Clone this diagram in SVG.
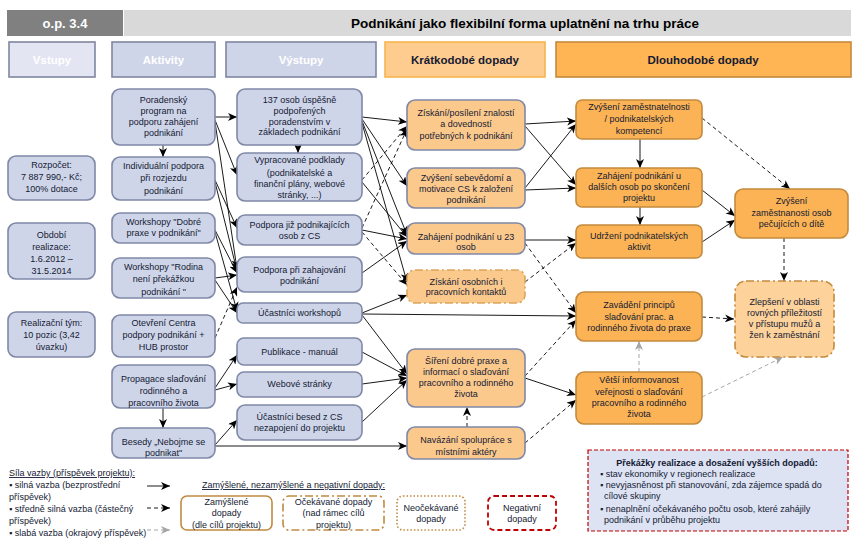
<svg xmlns="http://www.w3.org/2000/svg" width="859" height="540" viewBox="0 0 859 540">
<defs>
<marker id="ah" markerUnits="userSpaceOnUse" markerWidth="10" markerHeight="8" refX="9" refY="4" orient="auto"><path d="M0,0 L9,4 L0,8 L2.5,4 z" fill="#000"/></marker>
<marker id="ahg" markerUnits="userSpaceOnUse" markerWidth="10" markerHeight="8" refX="9" refY="4" orient="auto"><path d="M0,0 L9,4 L0,8 L2.5,4 z" fill="#a6a6a6"/></marker>
<style>
text{font-family:"Liberation Sans",Arial,sans-serif;font-size:9px;fill:#141a33;text-anchor:middle}
.blue{fill:#cfd5e9;stroke:#7f88a6;stroke-width:1.6}
.so{fill:#fcc98d;stroke:#7f88a6;stroke-width:1.6}
.lo{fill:#fbb355;stroke:#c48a3e;stroke-width:1.6}
.c{fill:none;stroke:#000;stroke-width:0.9;marker-end:url(#ah)}
.d{fill:none;stroke:#000;stroke-width:0.9;stroke-dasharray:4 3;marker-end:url(#ah)}
.g{fill:none;stroke:#a6a6a6;stroke-width:1;stroke-dasharray:4 3;marker-end:url(#ahg)}
.hd{font-size:11.5px;font-weight:bold}
.l{text-anchor:start}
</style>
</defs>
<rect width="859" height="540" fill="#fff"/>

<g id="header">
<rect x="7" y="10" width="116" height="26" fill="#808080"/>
<text x="65" y="28" style="fill:#fff;font-weight:bold;font-size:13px">o.p. 3.4</text>
<rect x="124" y="10" width="727" height="26" fill="#d9d9d9"/>
<text x="525" y="28" style="font-weight:bold;font-size:13.5px;fill:#000">Podnikání jako flexibilní forma uplatnění na trhu práce</text>
</g>

<g id="col-headers">
<rect x="9" y="42" width="86" height="35" fill="#e3e6f2" stroke="#7f86a0" stroke-width="1.6"/>
<text x="52" y="64" class="hd" style="fill:#fff">Vstupy</text>
<rect x="112" y="42" width="103" height="35" fill="#cfd5e8" stroke="#7f86a0" stroke-width="1.6"/>
<text x="163.5" y="64" class="hd" style="fill:#fff">Aktivity</text>
<rect x="226" y="42" width="150" height="35" fill="#cfd5e8" stroke="#7f86a0" stroke-width="1.6"/>
<text x="301" y="64" class="hd" style="fill:#fff">Výstupy</text>
<rect x="385" y="42" width="160" height="35" fill="#ffcc8f" stroke="#f7b44e" stroke-width="1.6"/>
<text x="465" y="64" class="hd">Krátkodobé dopady</text>
<rect x="556" y="42" width="295" height="35" fill="#ffb554" stroke="#c58a3c" stroke-width="1.6"/>
<text x="703" y="64" class="hd">Dlouhodobé dopady</text>
</g>

<g id="connectors">
<line class="c" x1="215" y1="117" x2="237" y2="117"/>
<line class="c" x1="215" y1="120" x2="237" y2="175"/>
<line class="c" x1="215" y1="122" x2="237" y2="269"/>
<line class="c" x1="215" y1="180" x2="237" y2="228"/>
<line class="c" x1="215" y1="182" x2="237" y2="271"/>
<line class="c" x1="215" y1="230" x2="237" y2="273"/>
<line class="c" x1="215" y1="232" x2="237" y2="311"/>
<line class="c" x1="215" y1="278" x2="237" y2="275"/>
<line class="c" x1="215" y1="280" x2="237" y2="313"/>
<line class="d" x1="215" y1="338" x2="237" y2="287"/>
<line class="c" x1="215" y1="388" x2="237" y2="355"/>
<line class="c" x1="215" y1="390" x2="237" y2="384"/>
<line class="c" x1="215" y1="445" x2="237" y2="420"/>
<line class="c" x1="215" y1="446" x2="407" y2="446"/>
<line class="c" x1="163" y1="145" x2="163" y2="157"/>
<line class="c" x1="163" y1="408" x2="163" y2="428"/>
<line class="c" x1="298" y1="145" x2="298" y2="153"/>

<line class="c" x1="362" y1="117" x2="407" y2="122"/>
<line class="c" x1="362" y1="119" x2="407" y2="186"/>
<line class="c" x1="362" y1="121" x2="407" y2="235"/>
<line class="c" x1="362" y1="123" x2="407" y2="282"/>
<line class="d" x1="362" y1="180" x2="407" y2="126"/>
<line class="c" x1="362" y1="182" x2="407" y2="237"/>
<line class="d" x1="362" y1="228" x2="407" y2="129"/>
<line class="c" x1="362" y1="230" x2="407" y2="239"/>
<line class="d" x1="362" y1="232" x2="407" y2="285"/>
<line class="c" x1="362" y1="273" x2="407" y2="241"/>
<line class="c" x1="362" y1="313" x2="407" y2="295"/>
<line class="c" x1="362" y1="314" x2="576" y2="316"/>
<line class="c" x1="362" y1="315" x2="407" y2="374"/>
<line class="c" x1="362" y1="352" x2="407" y2="376"/>
<line class="c" x1="362" y1="384" x2="407" y2="378"/>
<line class="c" x1="362" y1="422" x2="407" y2="380"/>
<line class="d" x1="467" y1="427" x2="467" y2="407"/>

<line class="c" x1="525" y1="124" x2="576" y2="121"/>
<line class="c" x1="525" y1="126" x2="576" y2="185"/>
<line class="c" x1="525" y1="188" x2="576" y2="124"/>
<line class="c" x1="525" y1="190" x2="576" y2="188"/>
<line class="c" x1="525" y1="240" x2="576" y2="240"/>
<line class="d" x1="525" y1="243" x2="576" y2="313"/>
<line class="d" x1="525" y1="282" x2="576" y2="243"/>
<line class="d" x1="525" y1="376" x2="576" y2="320"/>
<line class="c" x1="525" y1="378" x2="576" y2="395"/>
<line class="d" x1="525" y1="443" x2="576" y2="400"/>

<line class="c" x1="640" y1="139" x2="640" y2="168"/>
<line class="c" x1="640" y1="207" x2="640" y2="225"/>
<line class="c" x1="702" y1="190" x2="735" y2="216"/>
<line class="c" x1="702" y1="242" x2="735" y2="220"/>
<line class="d" x1="702" y1="118" x2="790" y2="189"/>
<line class="d" x1="784" y1="238" x2="784" y2="281"/>
<line class="d" x1="702" y1="317" x2="734" y2="319"/>
<line class="g" x1="639" y1="372" x2="639" y2="341"/>
<line class="g" x1="702" y1="397" x2="783" y2="357"/>
</g>

<g id="in-rozpocet"><rect class="blue" x="8" y="156" width="87" height="44" rx="8"/>
<text x="51.5" y="168">Rozpočet:</text><text x="51.5" y="180">7 887 990,- Kč;</text><text x="51.5" y="192">100% dotace</text></g>
<g id="in-obdobi"><rect class="blue" x="8" y="223" width="87" height="56" rx="8"/>
<text x="51.5" y="238">Období</text><text x="51.5" y="250">realizace:</text><text x="51.5" y="262">1.6.2012 –</text><text x="51.5" y="274">31.5.2014</text></g>
<g id="in-tym"><rect class="blue" x="8" y="312" width="87" height="45" rx="8"/>
<text x="51.5" y="326">Realizační tým:</text><text x="51.5" y="338">10 pozic (3,42</text><text x="51.5" y="350">úvazku)</text></g>

<g id="a-poradensky"><rect class="blue" x="112" y="89" width="103" height="56" rx="8"/>
<text x="163.5" y="103">Poradenský</text><text x="163.5" y="114">program na</text><text x="163.5" y="125">podporu zahájení</text><text x="163.5" y="136">podnikání</text></g>
<g id="a-individualni"><rect class="blue" x="112" y="157" width="103" height="43" rx="8"/>
<text x="163.5" y="169">Individuální podpora</text><text x="163.5" y="181">při rozjezdu</text><text x="163.5" y="194">podnikání</text></g>
<g id="a-dobre"><rect class="blue" x="112" y="213" width="103" height="30" rx="8"/>
<text x="163.5" y="225">Workshopy "Dobré</text><text x="163.5" y="236">praxe v podnikání"</text></g>
<g id="a-rodina"><rect class="blue" x="112" y="258" width="103" height="40" rx="8"/>
<text x="163.5" y="270">Workshopy "Rodina</text><text x="163.5" y="282">není překážkou</text><text x="163.5" y="295">podnikání "</text></g>
<g id="a-centrum"><rect class="blue" x="112" y="315" width="103" height="42" rx="8"/>
<text x="163.5" y="326">Otevření Centra</text><text x="163.5" y="338">podpory podnikání +</text><text x="163.5" y="350">HUB prostor</text></g>
<g id="a-propagace"><rect class="blue" x="112" y="365" width="103" height="43" rx="8"/>
<text x="163.5" y="382">Propagace slaďování</text><text x="163.5" y="394">rodinného a</text><text x="163.5" y="406">pracovního života</text></g>
<g id="a-besedy"><rect class="blue" x="112" y="428" width="103" height="30" rx="8"/>
<text x="163.5" y="445">Besedy „Nebojme se</text><text x="163.5" y="456">podnikat"</text></g>

<g id="o-137"><rect class="blue" x="237" y="89" width="125" height="56" rx="8"/>
<text x="299.5" y="103">137 osob úspěšně</text><text x="299.5" y="114">podpořených</text><text x="299.5" y="125">poradenstvím v</text><text x="299.5" y="135">základech podnikání</text></g>
<g id="o-podklady"><rect class="blue" x="237" y="153" width="125" height="48" rx="8"/>
<text x="299.5" y="163">Vypracované podklady</text><text x="299.5" y="176">(podnikatelské  a</text><text x="299.5" y="187">finanční plány, webové</text><text x="299.5" y="198">stránky, ...)</text></g>
<g id="o-jiz"><rect class="blue" x="237" y="215" width="125" height="30" rx="8"/>
<text x="299.5" y="228">Podpora již podnikajících</text><text x="299.5" y="239">osob z CS</text></g>
<g id="o-zahajovani"><rect class="blue" x="237" y="257" width="125" height="35" rx="8"/>
<text x="299.5" y="273">Podpora při zahajování</text><text x="299.5" y="284">podnikání</text></g>
<g id="o-workshopy"><rect class="blue" x="237" y="303" width="125" height="20" rx="6"/>
<text x="299.5" y="316">Účastníci workshopů</text></g>
<g id="o-publikace"><rect class="blue" x="237" y="338" width="125" height="27" rx="7"/>
<text x="299.5" y="355">Publikace - manuál</text></g>
<g id="o-web"><rect class="blue" x="237" y="372" width="125" height="25" rx="7"/>
<text x="299.5" y="387">Webové stránky</text></g>
<g id="o-besedy"><rect class="blue" x="237" y="405" width="125" height="35" rx="8"/>
<text x="299.5" y="420">Účastníci besed z CS</text><text x="299.5" y="431">nezapojení do projektu</text></g>

<g id="s-znalosti"><rect class="so" x="407" y="100" width="118" height="50" rx="8"/>
<text x="466" y="116">Získání/posílení znalostí</text><text x="466" y="127">a dovedností</text><text x="466" y="139">potřebných k podnikání</text></g>
<g id="s-sebevedomi"><rect class="so" x="407" y="168" width="118" height="40" rx="8"/>
<text x="466" y="181">Zvýšení sebevědomí a</text><text x="466" y="192">motivace CS k založení</text><text x="466" y="203">podnikání</text></g>
<g id="s-zahajeni23"><rect class="so" x="407" y="223" width="118" height="31" rx="8"/>
<text x="466" y="240">Zahájení podnikání u 23</text><text x="466" y="250">osob</text></g>
<g id="s-kontakty"><rect x="407" y="270" width="118" height="33" rx="8" fill="#fcc98d" stroke="#dba55a" stroke-width="1.6" stroke-dasharray="8 3 2 3"/>
<text x="466" y="285">Získání osobních i</text><text x="466" y="295">pracovních kontaktů</text></g>
<g id="s-sireni"><rect class="so" x="407" y="349" width="118" height="58" rx="8"/>
<text x="466" y="364">Šíření dobré praxe a</text><text x="466" y="375">informací o slaďování</text><text x="466" y="386">pracovního a rodinného</text><text x="466" y="397">života</text></g>
<g id="s-spoluprace"><rect class="so" x="407" y="427" width="118" height="32" rx="8"/>
<text x="466" y="443">Navázání spolupráce s</text><text x="466" y="455">místními aktéry</text></g>

<g id="l-zamestnatelnost"><rect class="lo" x="576" y="100" width="126" height="39" rx="6"/>
<text x="639" y="110">Zvýšení zaměstnatelnosti</text><text x="639" y="122">/ podnikatelských</text><text x="639" y="134">kompetencí</text></g>
<g id="l-zahajeni"><rect class="lo" x="576" y="168" width="126" height="39" rx="6"/>
<text x="639" y="179">Zahájení podnikání u</text><text x="639" y="190">dalších osob po skončení</text><text x="639" y="201">projektu</text></g>
<g id="l-udrzeni"><rect class="lo" x="576" y="225" width="126" height="33" rx="6"/>
<text x="639" y="239">Udržení podnikatelských</text><text x="639" y="250">aktivit</text></g>
<g id="l-zavadeni"><rect class="lo" x="576" y="292" width="126" height="49" rx="8"/>
<text x="639" y="308">Zavádění principů</text><text x="639" y="320">slaďování prac. a</text><text x="639" y="331">rodinného života do praxe</text></g>
<g id="l-informovanost"><rect class="lo" x="576" y="372" width="126" height="52" rx="8"/>
<text x="639" y="383">Větší informovanost</text><text x="639" y="395">veřejnosti o slaďování</text><text x="639" y="406">pracovního a rodinného</text><text x="639" y="417">života</text></g>
<g id="r-zamestnanost"><rect class="lo" x="735" y="189" width="113" height="49" rx="8"/>
<text x="791.5" y="204">Zvýšení</text><text x="791.5" y="216">zaměstnanosti osob</text><text x="791.5" y="227">pečujících o dítě</text></g>
<g id="r-zlepseni"><rect x="735" y="281" width="99" height="76" rx="11" fill="#fdd29b" stroke="#c48a3e" stroke-width="1.6" stroke-dasharray="8 3 2 3"/>
<text x="784.5" y="305">Zlepšení v oblasti</text><text x="784.5" y="316">rovných příležitostí</text><text x="784.5" y="327">v přístupu mužů a</text><text x="784.5" y="338">žen k zaměstnání</text></g>

<g id="legend-strength">
<text class="l" x="9" y="476" style="text-decoration:underline">Síla vazby (příspěvek projektu):</text>
<text class="l" x="9" y="488">▪ silná vazba (bezprostřední</text>
<text class="l" x="9" y="500">příspěvek)</text>
<text class="l" x="9" y="512">▪ středně silná vazba (částečný</text>
<text class="l" x="9" y="524">příspěvek)</text>
<text class="l" x="9" y="536">▪ slabá vazba (okrajový příspěvek)</text>
<line class="c" x1="147" y1="486" x2="170" y2="486"/>
<line class="d" x1="147" y1="508" x2="170" y2="508"/>
<line class="g" x1="147" y1="530" x2="170" y2="530"/>
</g>

<g id="legend-impacts">
<text class="l" x="202" y="488" style="text-decoration:underline">Zamýšlené, nezamýšlené a negativní dopady:</text>
<rect x="181" y="496" width="91" height="34" rx="6" fill="#fff" stroke="#c08a40" stroke-width="1.6"/>
<text x="226.5" y="505">Zamýšlené</text><text x="226.5" y="516">dopady</text><text x="226.5" y="528">(dle cílů projektu)</text>
<rect x="283" y="496" width="101" height="34" rx="6" fill="#fff" stroke="#c08a40" stroke-width="1.6" stroke-dasharray="8 3 2 3"/>
<text x="333.5" y="505">Očekávané dopady</text><text x="333.5" y="516">(nad rámec cílů</text><text x="333.5" y="528">projektu)</text>
<rect x="397" y="496" width="68" height="34" rx="6" fill="#fff" stroke="#c08a40" stroke-width="1.6" stroke-dasharray="1.5 2"/>
<text x="431" y="511">Neočekávané</text><text x="431" y="522">dopady</text>
<rect x="488" y="496" width="68" height="34" rx="6" fill="#fff" stroke="#c00000" stroke-width="1.8" stroke-dasharray="5 3"/>
<text x="522" y="511">Negativní</text><text x="522" y="522">dopady</text>
</g>

<g id="obstacles">
<rect x="588" y="450" width="260" height="81" fill="#dde3f3" stroke="#c00000" stroke-width="1.2" stroke-dasharray="4 2"/>
<text x="717" y="466" style="font-weight:bold">Překážky realizace a dosažení vyšších dopadů:</text>
<text class="l" x="600" y="477">▪ stav ekonomiky v regionech realizace</text>
<text class="l" x="600" y="488">▪ nevyjasněnost při stanovování, zda zájemce spadá do</text>
<text class="l" x="604" y="499">cílové skupiny</text>
<text class="l" x="600" y="512">▪ nenaplnění očekávaného počtu osob, které zahájily</text>
<text class="l" x="604" y="523">podnikání v průběhu projektu</text>
</g>
</svg>
